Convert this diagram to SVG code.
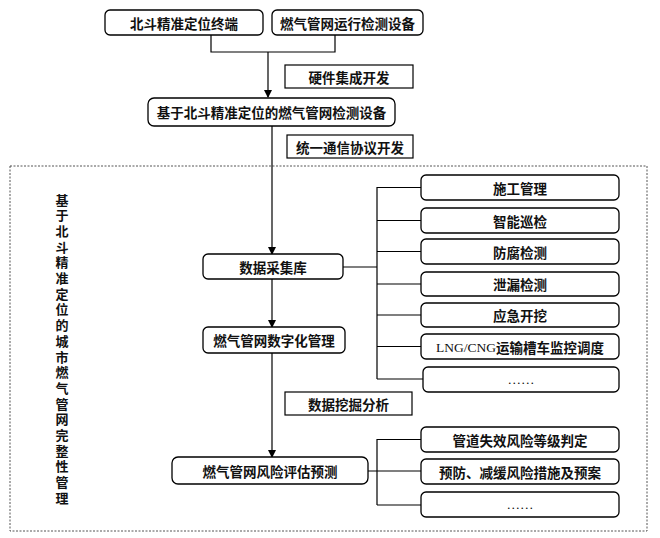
<svg xmlns="http://www.w3.org/2000/svg" width="660" height="538" viewBox="0 0 660 538">
<defs>
<marker id="arr" markerWidth="8" markerHeight="8" refX="7" refY="4" orient="auto" markerUnits="userSpaceOnUse">
<path d="M0,0 L8,4 L0,8 Z" fill="#000"/>
</marker>
<style>
.n{fill:#fff;stroke:#000;stroke-width:1.3}
.l{fill:#fff;stroke:#000;stroke-width:1.2}
.t{font-family:"Noto Sans CJK SC","Liberation Serif",sans-serif;font-size:13.5px;font-weight:bold;fill:#111;text-anchor:middle;dominant-baseline:central}
.v{font-family:"Noto Sans CJK SC",sans-serif;font-size:13px;font-weight:bold;fill:#111;text-anchor:middle;dominant-baseline:central}
.c{fill:none;stroke:#000;stroke-width:1.2}
</style>
</defs>
<rect width="660" height="538" fill="#fff"/>
<rect x="10" y="166" width="637" height="365" fill="none" stroke="#555" stroke-width="1" stroke-dasharray="2,1.5"/>
<g id="side">
<text class="v" x="62" y="199">基</text>
<text class="v" x="62" y="214.7">于</text>
<text class="v" x="62" y="230.4">北</text>
<text class="v" x="62" y="246.1">斗</text>
<text class="v" x="62" y="261.8">精</text>
<text class="v" x="62" y="277.5">准</text>
<text class="v" x="62" y="293.2">定</text>
<text class="v" x="62" y="308.9">位</text>
<text class="v" x="62" y="324.6">的</text>
<text class="v" x="62" y="340.3">城</text>
<text class="v" x="62" y="356">市</text>
<text class="v" x="62" y="371.7">燃</text>
<text class="v" x="62" y="387.4">气</text>
<text class="v" x="62" y="403.1">管</text>
<text class="v" x="62" y="418.8">网</text>
<text class="v" x="62" y="434.5">完</text>
<text class="v" x="62" y="450.2">整</text>
<text class="v" x="62" y="465.9">性</text>
<text class="v" x="62" y="481.6">管</text>
<text class="v" x="62" y="497.3">理</text>
</g>
<g id="connectors">
<path class="c" d="M211,35 V52 H335 V35"/>
<path class="c" d="M268,52 V97" marker-end="url(#arr)"/>
<path class="c" d="M272,126 V254" marker-end="url(#arr)"/>
<path class="c" d="M272,279 V327" marker-end="url(#arr)"/>
<path class="c" d="M272,353 V457" marker-end="url(#arr)"/>
<path class="c" d="M343,267 H377 M377,187 V379 M377,187.5 H421 M377,220.5 H421 M377,251.5 H421 M377,284 H421 M377,315 H421 M377,346.5 H421 M377,379 H423"/>
<path class="c" d="M368,471 H421 M377,439 V505 M377,439.5 H421 M377,505 H421"/>
</g>
<g id="n1"><rect class="n" x="105" y="10" width="158" height="25" rx="5"/><text class="t" x="184" y="22.5">北斗精准定位终端</text></g>
<g id="n2"><rect class="n" x="272" y="10" width="151" height="25" rx="5"/><text class="t" x="347.5" y="22.5">燃气管网运行检测设备</text></g>
<g id="l1"><rect class="l" x="285" y="65" width="128" height="23"/><text class="t" x="349" y="76.5">硬件集成开发</text></g>
<g id="n3"><rect class="n" x="148" y="98" width="247" height="28" rx="6"/><text class="t" x="271.5" y="112">基于北斗精准定位的燃气管网检测设备</text></g>
<g id="l2"><rect class="l" x="287" y="135" width="126" height="23"/><text class="t" x="350" y="146.5">统一通信协议开发</text></g>
<g id="n4"><rect class="n" x="203" y="254" width="140" height="25" rx="5"/><text class="t" x="273" y="266.5">数据采集库</text></g>
<g id="n5"><rect class="n" x="203" y="327" width="142" height="26" rx="5"/><text class="t" x="274" y="340">燃气管网数字化管理</text></g>
<g id="l3"><rect class="l" x="285" y="392" width="127" height="23"/><text class="t" x="348.5" y="403.5">数据挖掘分析</text></g>
<g id="n6"><rect class="n" x="172" y="457" width="196" height="27" rx="6"/><text class="t" x="270" y="470.5">燃气管网风险评估预测</text></g>
<g id="r1"><rect class="n" x="421" y="175" width="198" height="25" rx="5"/><text class="t" x="520" y="187.5">施工管理</text></g>
<g id="r2"><rect class="n" x="421" y="208" width="198" height="25" rx="5"/><text class="t" x="520" y="220.5">智能巡检</text></g>
<g id="r3"><rect class="n" x="421" y="239" width="198" height="25" rx="5"/><text class="t" x="520" y="251.5">防腐检测</text></g>
<g id="r4"><rect class="n" x="421" y="272" width="198" height="24" rx="5"/><text class="t" x="520" y="284">泄漏检测</text></g>
<g id="r5"><rect class="n" x="421" y="303" width="198" height="24" rx="5"/><text class="t" x="520" y="315">应急开挖</text></g>
<g id="r6"><rect class="n" x="421" y="334" width="198" height="25" rx="5"/><text class="t" x="520" y="346.5"><tspan font-family="Liberation Serif" font-weight="normal">LNG/CNG</tspan>运输槽车监控调度</text></g>
<g id="r7"><rect class="n" x="423" y="367" width="196" height="25" rx="5"/><text class="t" x="521" y="379" style="font-weight:normal;font-family:'Liberation Serif',serif">……</text></g>
<g id="s1"><rect class="n" x="421" y="427" width="198" height="25" rx="5"/><text class="t" x="520" y="439.5">管道失效风险等级判定</text></g>
<g id="s2"><rect class="n" x="421" y="459" width="198" height="25" rx="5"/><text class="t" x="520" y="471.5">预防、减缓风险措施及预案</text></g>
<g id="s3"><rect class="n" x="421" y="492" width="198" height="25" rx="5"/><text class="t" x="520" y="504" style="font-weight:normal;font-family:'Liberation Serif',serif">……</text></g>
</svg>
